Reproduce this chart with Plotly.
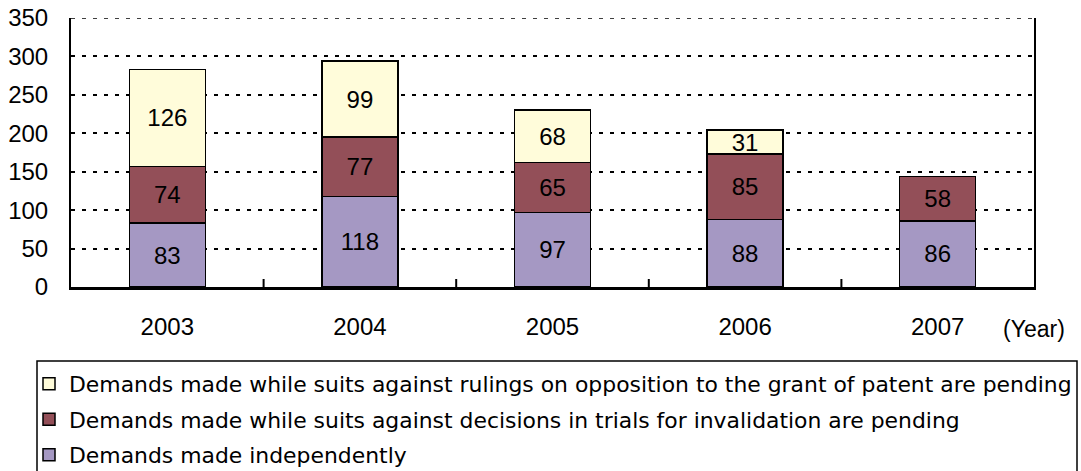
import plotly.graph_objects as go

years = ["2003", "2004", "2005", "2006", "2007"]
independent = [83, 118, 97, 88, 86]
invalidation = [74, 77, 65, 85, 58]
opposition = [126, 99, 68, 31, None]

series_names = [
    "Demands made independently",
    "Demands made while suits against decisions in trials for invalidation are pending",
    "Demands made while suits against rulings on opposition to the grant of patent are pending",
]
series_values = [independent, invalidation, opposition]
series_colors = ["#A598C3", "#934F58", "#FFFCDA"]
series_rank = [3, 2, 1]
y_ticks = [0, 50, 100, 150, 200, 250, 300, 350]

W, H = 1081, 471
# target plot area in page pixels: x 71..1034, y 18..287
L, T = 71, 18
R = W - 1034
B = H - 287
pw, ph = W - L - R, H - T - B


def px_x(p):
    return (p - L) / pw


def px_y(p):
    return (H - B - p) / ph


fig = go.Figure()
for name, vals, color, rank in zip(series_names, series_values, series_colors, series_rank):
    fig.add_trace(go.Bar(
        x=years, y=vals, name=name, legendgroup=name, legendrank=rank,
        marker=dict(color=color, line=dict(color="black", width=1.5)),
        text=["" if v is None else str(v) for v in vals],
        textposition="inside", insidetextanchor="middle",
        constraintext="none", textangle=0,
        textfont=dict(size=24, color="black", family="Liberation Sans"),
    ))

# top gridline (plotly drops the one on the range edge)
fig.add_shape(type="line", xref="paper", yref="y", x0=0, x1=1,
              y0=y_ticks[-1], y1=y_ticks[-1], layer="below",
              line=dict(color="black", width=1.5, dash="4px,7px"))

# inner tick marks between categories
for i in range(len(years) - 1):
    fig.add_shape(type="line", xref="x", yref="y", x0=i + 0.5, x1=i + 0.5,
                  ysizemode="pixel", yanchor=0, y0=0, y1=8,
                  line=dict(color="black", width=2))

# legend frame
fig.add_shape(type="rect", xref="paper", yref="paper",
              x0=px_x(37), x1=px_x(1077), y0=px_y(361), y1=px_y(520),
              line=dict(color="black", width=1.5), fillcolor="rgba(0,0,0,0)")

fig.add_annotation(text="(Year)", xref="paper", yref="paper",
                   x=px_x(1034), y=px_y(329), xanchor="center", yanchor="middle",
                   showarrow=False, font=dict(size=23, color="black", family="Liberation Sans"))

fig.update_layout(
    width=W, height=H,
    margin=dict(l=L, r=R, t=T, b=B, autoexpand=False),
    barmode="stack", bargap=0.605,
    plot_bgcolor="white", paper_bgcolor="white",
    font=dict(family="Liberation Sans", color="black"),
    showlegend=True,
    legend=dict(
        x=px_x(29), y=px_y(363), xanchor="left", yanchor="top",
        traceorder="grouped", tracegroupgap=4,
        font=dict(size=21.9, family="DejaVu Sans", color="black"),
        bgcolor="rgba(0,0,0,0)", borderwidth=0, itemwidth=30,
    ),
    xaxis=dict(
        showline=True, linecolor="black", linewidth=2.5,
        ticks="", ticklabelstandoff=16,
        tickfont=dict(size=24, family="Liberation Sans", color="black"),
        showgrid=False, zeroline=False, fixedrange=True,
    ),
    yaxis=dict(
        range=[0, 350], tickvals=y_ticks,
        showline=True, linecolor="black", linewidth=2, mirror=True,
        showgrid=True, gridcolor="black", gridwidth=1.5, griddash="4px,7px",
        ticks="", ticklabelstandoff=16, ticklabeloverflow="allow",
        tickfont=dict(size=24, family="Liberation Sans", color="black"),
        zeroline=False, fixedrange=True,
    ),
)

fig.write_html("out.html", config={"displayModeBar": False},
               post_script="document.body.style.margin='0';")
